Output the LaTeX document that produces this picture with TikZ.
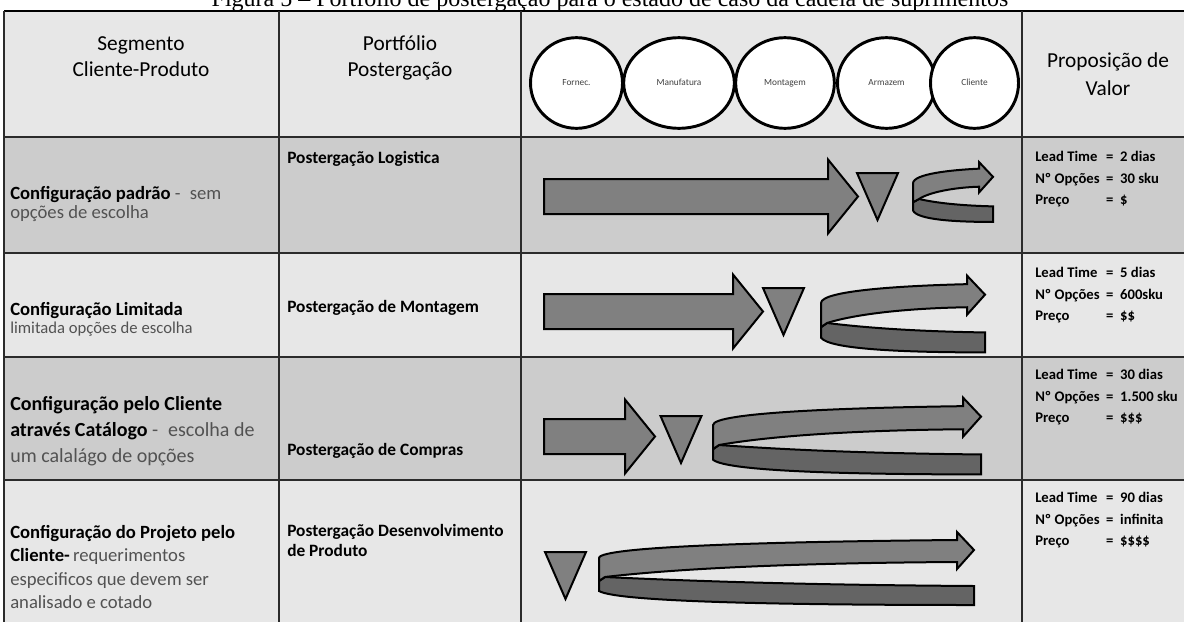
\documentclass[tikz,border=0pt]{standalone}
\usepackage{fontspec}
\setmainfont{Carlito}
\newfontfamily\captionfont{Liberation Serif}
\usetikzlibrary{shapes.geometric}

\definecolor{rowdark}{HTML}{CCCCCC}
\definecolor{rowlight}{HTML}{E7E7E7}
\definecolor{arrowgray}{HTML}{808080}
\definecolor{bandgray}{HTML}{646464}
\definecolor{gridgray}{HTML}{2B2B2B}

% light descriptive text
\newcommand{\lt}[1]{{\mdseries\color{black!68}#1}}

% block arrow: start x, tip x, centre y
\newcommand{\blockarrow}[3]{%
  \draw[blockfill] (#1,{#3-17.5}) -- ({#2-30},{#3-17.5}) -- ({#2-30},{#3-37}) -- (#2,#3)
    -- ({#2-30},{#3+37}) -- ({#2-30},{#3+17.5}) -- (#1,{#3+17.5}) -- cycle;}

% stock triangle: centre x, top y
\newcommand{\stocktri}[2]{%
  \draw[blockfill] ({#1-20.5},#2) -- ({#1+20.5},#2) -- (#1,{#2+47}) -- cycle;}

% hairpin arrow: left x, tip x, centre y, vertical scale
\newcommand{\hairpin}[4]{%
  \pgfmathsetmacro{\hpx}{(#2-#1)*0.75}%
  \pgfmathsetmacro{\hpy}{-0.75*#4}%
  \pgfmathsetmacro{\hpb}{1-17*#4/(#2-#1)}%
  \pgfmathsetmacro{\hpr}{6/(#2-#1)}%
  \begin{scope}[shift={(#1,#3)}, x=\hpx pt, y=\hpy pt]
    \draw[lowband] (\hpr,0) .. controls (0.3,5) and (0.6,8) .. (1,9) -- (1,28)
      .. controls (0.5,28) and (0.05,25) .. (0,14) -- (0,4) -- cycle;
    \draw[blockfill] (\hpr,0) .. controls (0.2,-8) and (0.5,-14) .. (\hpb,-15) -- (\hpb,-8)
      -- (1,-27) -- (\hpb,-45) -- (\hpb,-37) .. controls (0.5,-35.5) and (0,-31) .. (0,-19)
      -- (0,4) -- cycle;
  \end{scope}}

\begin{document}
\begin{tikzpicture}[x=0.75pt, y=-0.75pt,
  hdr/.style={font=\fontsize{16}{19.5}\selectfont, align=center, inner sep=0pt},
  seg/.style={anchor=north west, align=left, inner sep=0pt},
  port/.style={anchor=north west, align=left, inner sep=0pt, font=\bfseries\fontsize{13}{15}\selectfont},
  val/.style={anchor=north west, inner sep=0pt, font=\bfseries\fontsize{11}{16}\selectfont},
  stage/.style={ellipse, draw, line width=2.2pt, fill=white, inner sep=0pt, minimum height=68pt,
    text height=5pt, text depth=1.5pt, text=black!75, font=\fontsize{7}{8}\selectfont},
  blockfill/.style={draw, line width=1.5pt, fill=arrowgray, line join=miter},
  lowband/.style={blockfill, fill=bandgray},
  rowline/.style={draw=gridgray, line width=1.8pt}
]
\useasboundingbox (0,0) rectangle (1184,621);
\fill[white] (0,0) rectangle (1184,621);

% title, cut at the top as in the source
\node[anchor=base, inner sep=0pt, font=\captionfont\fontsize{18}{20}\selectfont] (title) at (610,6.5)
  {Figura 5 – Portfólio de postergação para o estado de caso da cadeia de suprimentos};

% rows and grid
\foreach \ya/\yb/\c in {11/137/rowlight, 137/253/rowdark, 253/357/rowlight, 357/480/rowdark, 480/625/rowlight}
  \fill[\c] (4,\ya) rectangle (1194,\yb);
\draw[black, line width=0.9pt] (4,11) -- (1194,11);
\foreach \y in {137,253,357,480}
  \draw[rowline] (4,\y) -- (1194,\y);
\foreach \x in {4,279,521,1022}
  \draw[gridgray, line width=1.1pt] (\x,11) -- (\x,625);

% header
\node[hdr] (hseg) at (141,57) {Segmento\\Cliente-Produto};
\node[hdr] (hport) at (400,58) {Portfólio\\Postergação};
\node[hdr, font=\fontsize{16}{21}\selectfont] (hval) at (1108,74) {Proposição de\\Valor};

\node[stage, minimum width=69pt] (forn) at (576.5,83) {Fornec.};
\node[stage, minimum width=83pt] (manu) at (679,83) {Manufatura};
\node[stage, minimum width=74pt] (mont) at (785,83) {Montagem};
\node[stage, minimum width=73.5pt] (arma) at (886.5,83) {Armazem};
\node[stage, minimum width=66pt] (clie) at (974.5,83) {Cliente};

% segments
\node[seg, font=\fontsize{14}{14.25}\selectfont] (seg1) at (10,186)
  {\textbf{Configuração padrão} \lt{-\enspace sem}\\\lt{opções de escolha}};
\node[seg, font=\fontsize{14}{13.5}\selectfont] (seg2) at (10,302)
  {\textbf{Configuração Limitada}\\\lt{\fontsize{12.5}{13.5}\selectfont limitada opções de escolha}};
\node[seg, font=\fontsize{15}{19.5}\selectfont] (seg3) at (10,396)
  {\textbf{Configuração pelo Cliente}\\\textbf{através Catálogo} \lt{-\enspace escolha de}\\\lt{um calalágo de opções}};
\node[seg, font=\fontsize{14}{17.5}\selectfont] (seg4) at (10,525)
  {\textbf{Configuração do Projeto pelo}\\\textbf{Cliente-}\,\lt{requerimentos}\\\lt{especificos que devem ser}\\\lt{analisado e cotado}};

% postponement portfolio
\node[port] (port1) at (287,151) {Postergação Logistica};
\node[port] (port2) at (287,300) {Postergação de Montagem};
\node[port] (port3) at (287,443) {Postergação de Compras};
\node[port] (port4) at (287,524) {Postergação Desenvolvimento\\de Produto};

% value proposition
\node[val] (val1) at (1035,146.5) {\begin{tabular}{@{}l@{\ \ }l@{\ \ }l@{}}Lead Time & = & 2 dias\\Nº Opções & = & 30 sku\\Preço & = & \$\end{tabular}};
\node[val] (val2) at (1035,262.5) {\begin{tabular}{@{}l@{\ \ }l@{\ \ }l@{}}Lead Time & = & 5 dias\\Nº Opções & = & 600sku\\Preço & = & \$\$\end{tabular}};
\node[val] (val3) at (1035,364.5) {\begin{tabular}{@{}l@{\ \ }l@{\ \ }l@{}}Lead Time & = & 30 dias\\Nº Opções & = & 1.500 sku\\Preço & = & \$\$\$\end{tabular}};
\node[val] (val4) at (1035,487.5) {\begin{tabular}{@{}l@{\ \ }l@{\ \ }l@{}}Lead Time & = & 90 dias\\Nº Opções & = & infinita\\Preço & = & \$\$\$\$\end{tabular}};

% flows
\blockarrow{544}{858}{196.5}
\stocktri{877.5}{173}
\hairpin{913}{993}{199}{0.82}

\blockarrow{544}{763}{311.5}
\stocktri{783.5}{288}
\hairpin{821}{985}{323}{1.05}

\blockarrow{544}{655}{436.5}
\stocktri{681}{416}
\hairpin{713}{981}{445}{1.05}

\stocktri{565.5}{552}
\hairpin{599}{974}{577}{1}
\end{tikzpicture}
\end{document}
